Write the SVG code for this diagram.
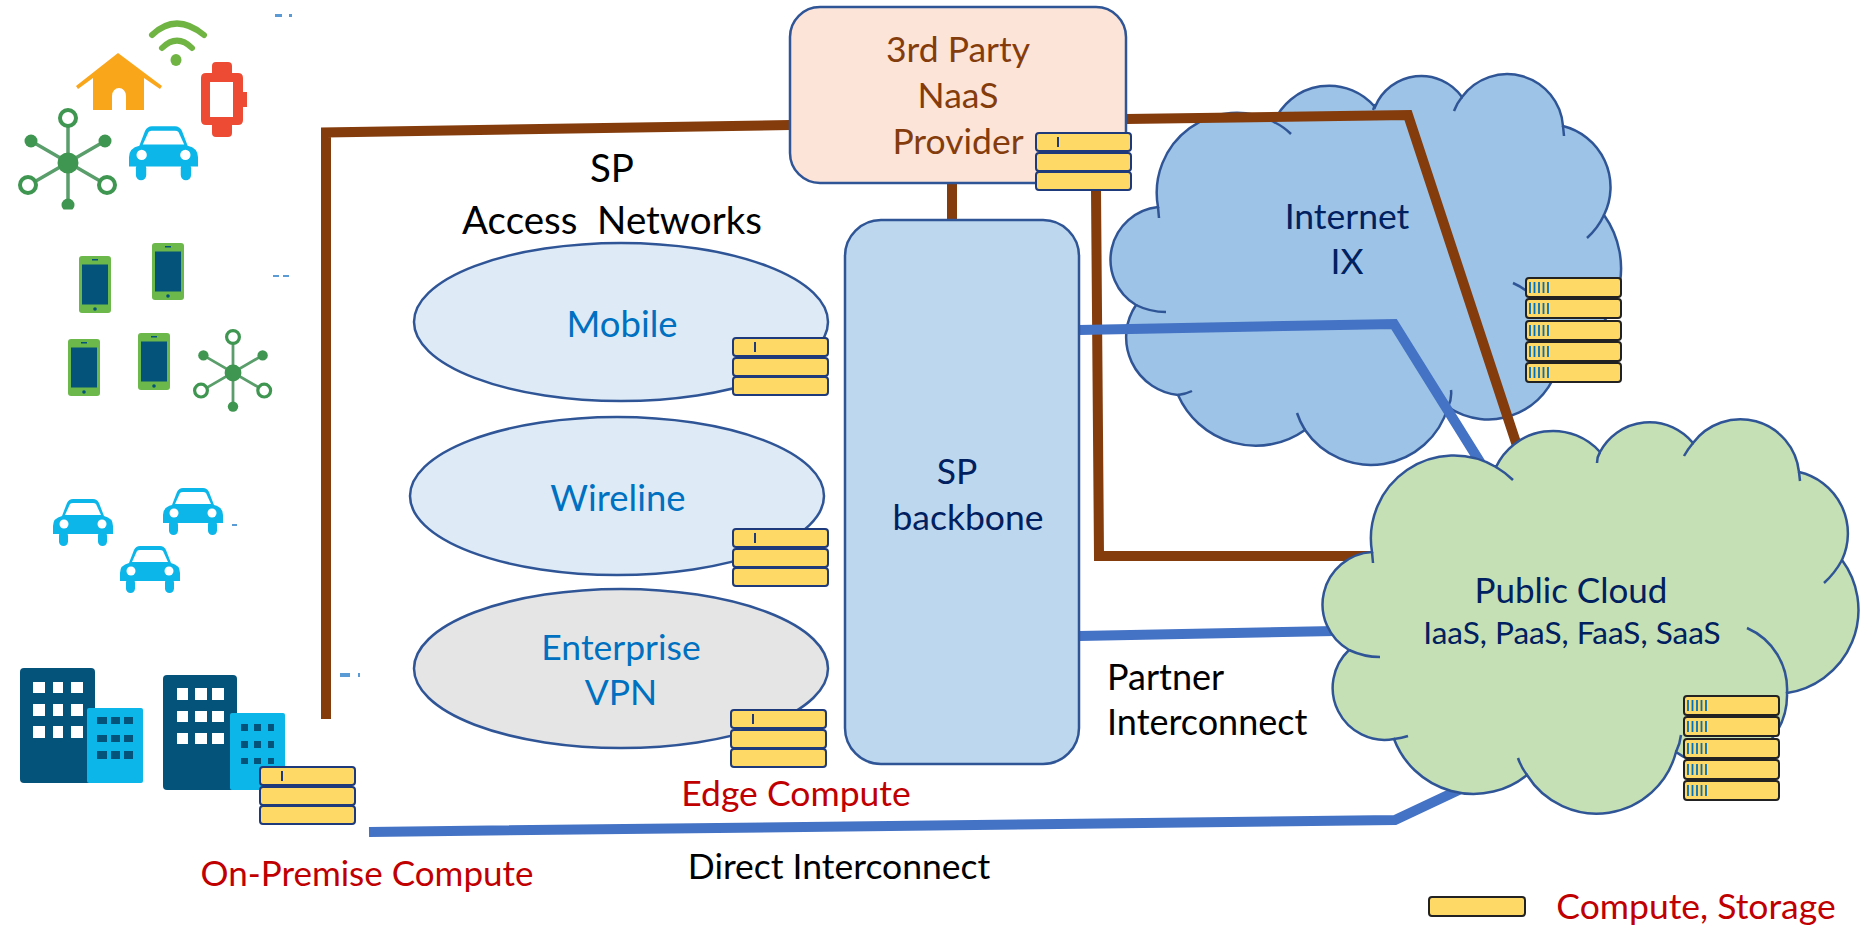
<svg xmlns="http://www.w3.org/2000/svg" xmlns:xlink="http://www.w3.org/1999/xlink" width="1870" height="925" viewBox="0 0 1870 925">
<style>
text{font-family:"Lato","Liberation Sans",sans-serif;text-anchor:middle}
.navy{fill:#002060}.blue{fill:#0070C0}.red{fill:#C00000}.brownt{fill:#843C0C}.blk{fill:#000}
.outline{stroke:#2F5597;stroke-width:2.5}
.inner{fill:none;stroke:#2F5597;stroke-width:2.5}
.br{fill:none;stroke:#843C0C;stroke-width:10}
.bl{fill:none;stroke:#4472C4;stroke-width:10}
.bar{fill:#FFD966;stroke:#1F3A7A;stroke-width:2}
.bar5{fill:#FFD966;stroke:#222;stroke-width:2}
.tick{stroke:#1F3A7A;stroke-width:2}
.tk5{stroke:#0070C0;stroke-width:1.8}
.car{fill:#0CB6E8}.dark{fill:#04537B}.light{fill:#0CB6E8}.win{fill:#fff}.phone{fill:#6CB84A}
.hs{stroke:#5A9E6B;stroke-width:3.5;fill:none}.hf{fill:#3E9650}.hr{fill:#fff;stroke:#3E9650;stroke-width:4}
.dash{fill:#5B9BD5}
</style>
<defs>
<g id="stack3"><rect class="bar" x="0" y="0" width="95" height="18" rx="3"/><rect class="bar" x="0" y="20" width="95" height="18" rx="3"/><rect class="bar" x="0" y="39" width="95" height="18" rx="3"/><line class="tick" x1="22" y1="4" x2="22" y2="14"/></g>
<g id="r5"><rect class="bar5" x="0" y="0" width="95" height="19" rx="3"/><path class="tk5" d="M4,4V15M8.500,4V15M13,4V15M17.500,4V15M22,4V15"/></g>
<g id="stack5"><use href="#r5"/><use href="#r5" y="21"/><use href="#r5" y="43"/><use href="#r5" y="64"/><use href="#r5" y="85"/></g>
<g id="car"><path class="car" d="M9,18L14,5Q16,1 20,1H40Q44,1 46,5L51,18Q60,20 60,28V36H0V28Q0,20 9,18Z"/><path class="win" d="M12,17L17,6Q18,5 20,5H40Q42,5 43,6L48,17Z"/><rect class="car" x="6" y="33" width="9" height="15" rx="4.500"/><rect class="car" x="45" y="33" width="9" height="15" rx="4.500"/><circle class="win" cx="11" cy="26" r="4.500"/><circle class="win" cx="49" cy="26" r="4.500"/></g>
<g id="hub"><path class="hs" d="M0,-45V42M-37,-22L39,22M37,-22L-39,22"/><circle class="hf" r="10.500"/><circle class="hr" cx="0" cy="-45" r="8"/><circle class="hf" cx="-37" cy="-22" r="6.500"/><circle class="hf" cx="37" cy="-22" r="6.500"/><circle class="hr" cx="-40" cy="22" r="8"/><circle class="hr" cx="39" cy="22" r="8"/><circle class="hf" cx="0" cy="42" r="6.500"/></g>
<g id="phone"><rect class="phone" width="32" height="57" rx="3"/><rect class="dark" x="3" y="8.500" width="26" height="40"/><rect class="dark" x="13" y="3" width="6" height="1.500"/><circle class="dark" cx="16" cy="53" r="1.800"/></g>
</defs>

<g id="internet-cloud">
<path class="outline" fill="#9DC3E6" d="M1158,207A80,80 0 0 1 1274,122A60,60 0 0 1 1375,107A50,50 0 0 1 1462,97A56,56 0 0 1 1563,126A63,63 0 0 1 1604,215A92,92 0 0 1 1560,355A72,72 0 0 1 1448,407A80,80 0 0 1 1305,430A85,85 0 0 1 1178,395A58,58 0 0 1 1136,305A53,53 0 0 1 1158,207Z"/>
<path class="inner" d="M1159,218L1158,207M1274,122Q1284,127 1291,134M1373,110Q1374,108 1375,104M1454,111Q1457,103 1462,97M1563,126L1564,136M1604,215Q1598,228 1587,238M1513,283Q1520,286 1528,292M1448,407Q1452,399 1451,390M1305,430Q1300,422 1297,413M1178,395Q1186,394 1192,391M1136,305Q1150,312 1166,312"/>
<text class="navy" x="1347" y="229" font-size="35.500">Internet</text>
<text class="navy" x="1347" y="274" font-size="35.500">IX</text>
</g>

<g id="connectors">
<path class="br" d="M790,125L326,132.500V719"/>
<path class="br" d="M1126,119L1408,115L1525,470"/>
<path class="br" d="M952,183V219"/>
<path class="br" d="M1096,190L1099,556H1380"/>
<path class="bl" d="M1079,330L1394,324L1485,470"/>
<path class="bl" d="M1079,636L1335,631"/>
<path class="bl" d="M369,832L1395,820L1480,780"/>
</g>

<g id="public-cloud">
<path class="outline" fill="#C5E0B4" d="M1372,552A83,83 0 0 1 1496,467A63,63 0 0 1 1600,452A56,56 0 0 1 1693,443A59,59 0 0 1 1799,472A63,63 0 0 1 1842,560A84,84 0 0 1 1787,693A70,70 0 0 1 1676,752A82,82 0 0 1 1527,775A85,85 0 0 1 1394,739A52,52 0 0 1 1349,650A52.500,52.500 0 0 1 1372,552Z"/>
<path class="inner" d="M1373,563L1372,552M1496,467Q1506,473 1513,480M1597,463Q1597,457 1600,452M1684,456Q1688,449 1693,443M1799,472L1800,481M1842,560Q1835,573 1824,583M1747,628A67,67 0 0 1 1787,693M1676,752Q1680,744 1681,735M1527,775Q1521,767 1518,758M1394,739Q1402,738 1408,736M1349,650Q1364,657 1380,657"/>
<text class="navy" x="1571" y="603" font-size="35">Public Cloud</text>
<text class="navy" x="1572" y="644" font-size="31.500">IaaS, PaaS, FaaS, SaaS</text>
</g>

<g id="naas"><rect class="outline" fill="#FDE4D8" x="790" y="7" width="336" height="176" rx="30"/>
<text class="brownt" x="958" y="62" font-size="35.500">3rd Party</text><text class="brownt" x="958" y="108" font-size="35.500">NaaS</text><text class="brownt" x="958" y="154" font-size="35.500">Provider</text></g>

<g id="backbone"><rect class="outline" fill="#BDD7EE" x="845" y="220" width="234" height="544" rx="36"/>
<text class="navy" x="957" y="484" font-size="35.500">SP</text><text class="navy" x="968" y="530" font-size="35.500">backbone</text></g>

<g id="mobile"><ellipse class="outline" fill="#DEEBF7" cx="621" cy="322" rx="207" ry="79"/><text class="blue" x="622" y="337" font-size="36.500">Mobile</text></g>
<g id="wireline"><ellipse class="outline" fill="#DEEBF7" cx="617" cy="496" rx="207" ry="79"/><text class="blue" x="618" y="511" font-size="36.500">Wireline</text></g>
<g id="enterprise"><ellipse class="outline" fill="#E5E5E5" cx="621" cy="668.500" rx="207" ry="79.500"/><text class="blue" x="621" y="660" font-size="35.500">Enterprise</text><text class="blue" x="621" y="705" font-size="35.500">VPN</text></g>

<g id="icons-top">
<path d="M152,35Q176,12 204,35" fill="none" stroke="#70B544" stroke-width="6" stroke-linecap="round"/>
<path d="M162,48Q177,33 192,48" fill="none" stroke="#70B544" stroke-width="6" stroke-linecap="round"/>
<ellipse cx="176" cy="60" rx="5.500" ry="6" fill="#70B544"/>
<path fill="#F9A61B" d="M76,86L118,53L162,86L160,89L144,78V110H126V96A7,8 0 0 0 112,96V110H93V78L78,89Z"/>
<path fill="#EE4B35" d="M212,66Q212,62 216,62H228Q232,62 232,66V73H238Q243,73 243,78V92H247V107H243V120Q243,125 238,125H232V133Q232,137 228,137H216Q212,137 212,133V125H206Q201,125 201,120V78Q201,73 206,73H212Z"/>
<rect class="win" x="210" y="82" width="23" height="35"/>
<use href="#car" transform="translate(129,125) scale(1.15)"/>
<use href="#hub" transform="translate(68,163)"/>
<rect x="50" y="209.500" width="36" height="6" fill="#fff"/>
</g>
<g id="icons-phones">
<use href="#phone" x="79" y="256"/><use href="#phone" x="152" y="243"/><use href="#phone" x="68" y="339"/><use href="#phone" x="138" y="333"/>
<use href="#hub" transform="translate(233,373) scale(0.8)"/>
</g>
<g id="icons-cars">
<use href="#car" x="53" y="498"/><use href="#car" x="163" y="487"/><use href="#car" x="120" y="545"/>
</g>
<g id="icons-buildings">
<rect class="dark" x="20" y="668" width="75" height="115" rx="4"/>
<path class="win" d="M33,682h12v11h-12zM53,682h10v11h-10zM71,682h12v11h-12zM33,704h12v12h-12zM53,704h10v12h-10zM71,704h12v12h-12zM33,726h12v12h-12zM53,726h10v12h-10zM71,726h12v12h-12z"/>
<rect class="light" x="87" y="708" width="56" height="75" rx="2"/>
<path class="dark" d="M97,717h10v7h-10zM111,717h9v7h-9zM124,717h9v7h-9zM97,735h10v7h-10zM111,735h9v7h-9zM124,735h9v7h-9zM97,751h10v8h-10zM111,751h9v8h-9zM124,751h9v8h-9z"/>
<rect class="dark" x="163" y="675" width="74" height="115" rx="4"/>
<path class="win" d="M177,688h11v12h-11zM195,688h12v12h-12zM212,688h12v12h-12zM177,711h11v11h-11zM195,711h12v11h-12zM212,711h12v11h-12zM177,733h11v11h-11zM195,733h12v11h-12zM212,733h12v11h-12z"/>
<rect class="light" x="230" y="713" width="55" height="77" rx="2"/>
<path class="dark" d="M241,724h7v7h-7zM254,724h7v7h-7zM268,724h6v7h-6zM241,741h7v7h-7zM254,741h7v7h-7zM268,741h6v7h-6zM241,758h7v6h-7zM254,758h7v6h-7zM268,758h6v6h-6z"/>
</g>
<g id="specks">
<rect class="dash" x="275" y="14" width="7" height="3"/><rect class="dash" x="289" y="14" width="3" height="3"/>
<rect class="dash" x="273" y="275" width="6" height="2"/><rect class="dash" x="283" y="275" width="6" height="2"/>
<rect class="dash" x="232" y="524" width="5" height="2"/>
<rect class="dash" x="340" y="673" width="10" height="4"/><rect class="dash" x="358" y="673" width="2" height="4"/>
</g>

<g id="stack-naas"><use href="#stack3" x="1036" y="133"/></g>
<g id="stack-mobile"><use href="#stack3" x="733" y="338"/></g>
<g id="stack-wireline"><use href="#stack3" x="733" y="529"/></g>
<g id="stack-enterprise"><use href="#stack3" x="731" y="710"/></g>
<g id="stack-onprem"><use href="#stack3" x="260" y="767"/></g>
<g id="stack-internet"><use href="#stack5" x="1526" y="278"/></g>
<g id="stack-public"><use href="#stack5" x="1684" y="696"/></g>

<g id="labels">
<text class="blk" x="612" y="182" font-size="38.500">SP</text>
<text class="blk" x="612" y="234" font-size="38.500" xml:space="preserve">Access  Networks</text>
<text class="blk" x="1107" y="690" font-size="36" style="text-anchor:start">Partner</text>
<text class="blk" x="1107" y="735" font-size="36" style="text-anchor:start">Interconnect</text>
<text class="blk" x="839" y="879" font-size="35.500">Direct Interconnect</text>
<text class="red" x="796" y="806" font-size="35.500">Edge Compute</text>
<text class="red" x="367" y="886" font-size="35">On-Premise Compute</text>
</g>
<g id="legend"><rect class="bar5" x="1429" y="897" width="96" height="19" rx="3"/>
<text class="red" x="1696" y="919" font-size="35.500">Compute, Storage</text></g>
</svg>
